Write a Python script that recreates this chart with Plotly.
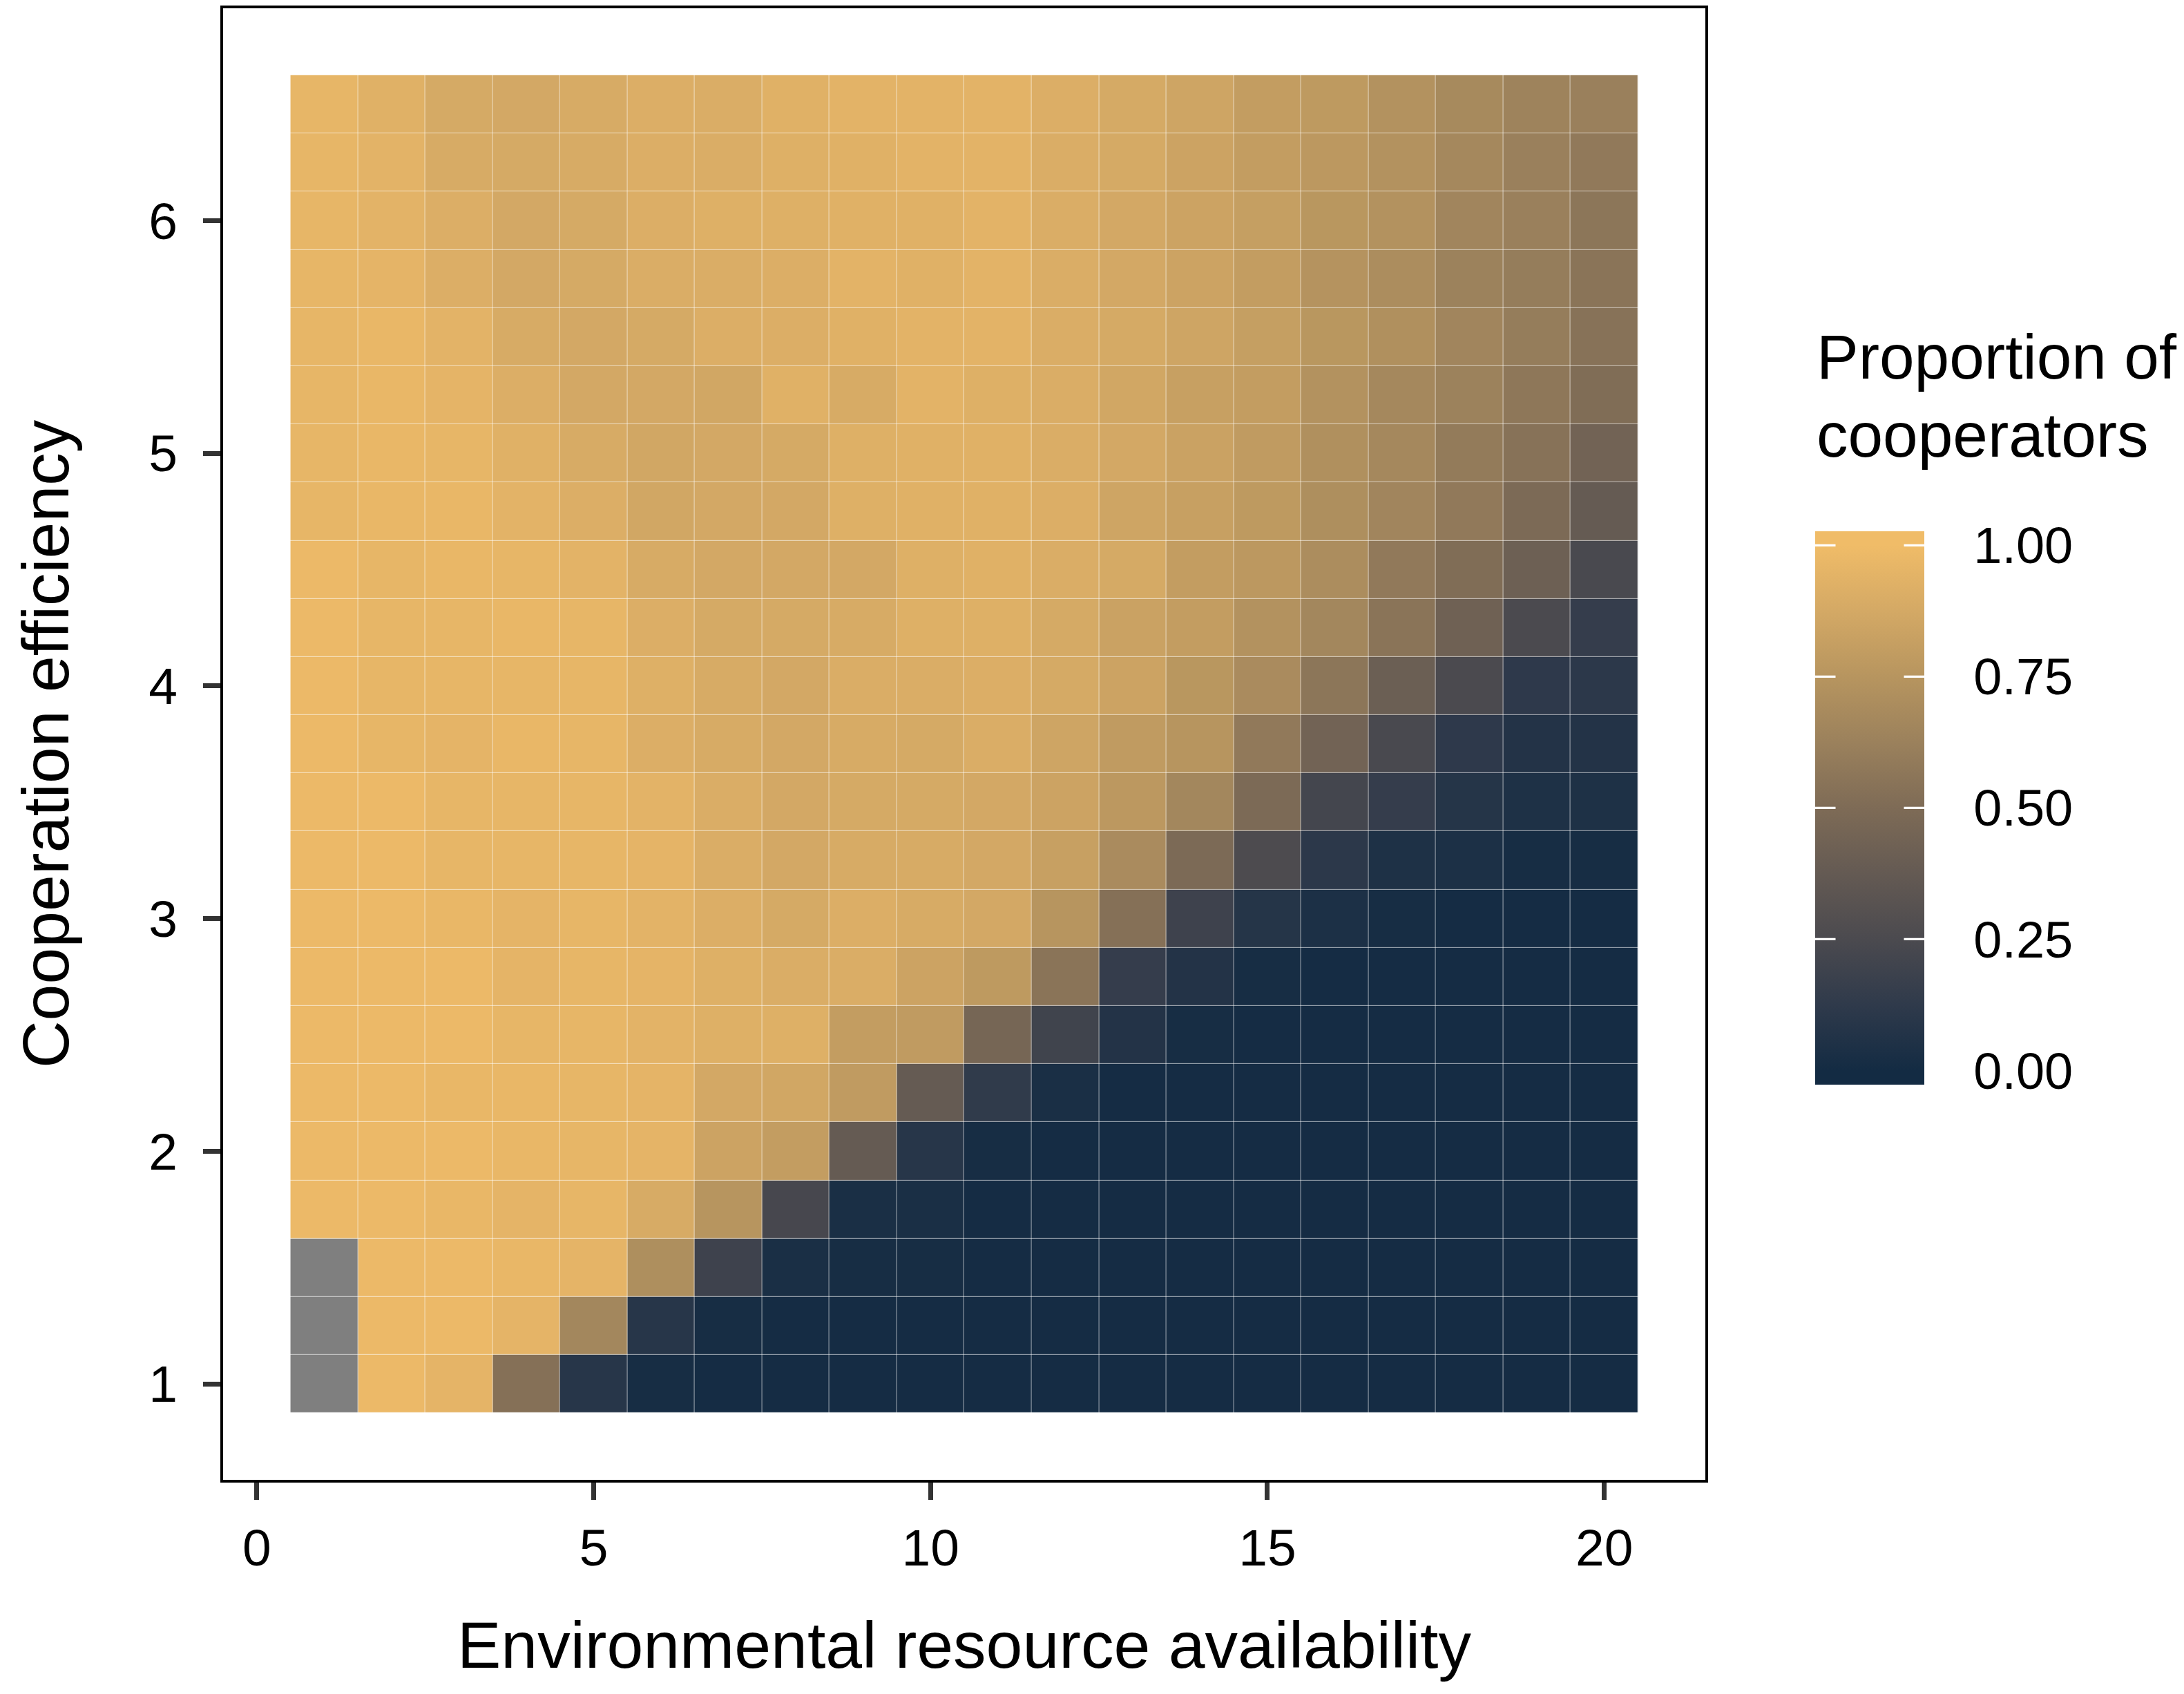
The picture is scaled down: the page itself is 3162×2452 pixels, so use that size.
import plotly.graph_objects as go

# grid: environmental resource availability (x) by cooperation efficiency (y)
resource = [1, 2, 3, 4, 5, 6, 7, 8, 9, 10, 11, 12, 13, 14, 15, 16, 17, 18, 19, 20]
efficiency = [1.0, 1.25, 1.5, 1.75, 2.0, 2.25, 2.5, 2.75, 3.0, 3.25, 3.5, 3.75,
              4.0, 4.25, 4.5, 4.75, 5.0, 5.25, 5.5, 5.75, 6.0, 6.25, 6.5]

# proportion of cooperators, one list per efficiency level (None = no data)
r100 = [None, 0.98, 0.95, 0.53, 0.09, 0.02, 0.01, 0.01, 0.01, 0.01, 0.01, 0.01, 0.01, 0.01, 0.01, 0.01, 0.01, 0.01, 0.01, 0.01]
r125 = [None, 0.98, 0.98, 0.95, 0.66, 0.09, 0.02, 0.01, 0.01, 0.01, 0.01, 0.01, 0.01, 0.01, 0.01, 0.01, 0.01, 0.01, 0.01, 0.01]
r150 = [None, 0.98, 0.98, 0.97, 0.95, 0.71, 0.19, 0.03, 0.02, 0.02, 0.01, 0.01, 0.01, 0.01, 0.01, 0.01, 0.01, 0.01, 0.01, 0.01]
r175 = [0.98, 0.98, 0.97, 0.95, 0.96, 0.89, 0.75, 0.23, 0.03, 0.03, 0.01, 0.01, 0.01, 0.01, 0.01, 0.01, 0.01, 0.01, 0.01, 0.01]
r200 = [0.98, 0.98, 0.98, 0.97, 0.96, 0.95, 0.84, 0.80, 0.38, 0.09, 0.02, 0.01, 0.01, 0.01, 0.01, 0.01, 0.01, 0.01, 0.01, 0.01]
r225 = [0.98, 0.98, 0.97, 0.97, 0.96, 0.95, 0.87, 0.86, 0.79, 0.38, 0.13, 0.03, 0.01, 0.01, 0.01, 0.01, 0.01, 0.01, 0.01, 0.01]
r250 = [0.98, 0.98, 0.98, 0.96, 0.96, 0.94, 0.92, 0.92, 0.80, 0.79, 0.46, 0.20, 0.07, 0.02, 0.01, 0.01, 0.01, 0.01, 0.01, 0.01]
r275 = [0.98, 0.98, 0.98, 0.95, 0.96, 0.95, 0.92, 0.90, 0.90, 0.84, 0.78, 0.55, 0.15, 0.07, 0.02, 0.01, 0.01, 0.01, 0.01, 0.01]
r300 = [0.98, 0.98, 0.97, 0.95, 0.96, 0.94, 0.91, 0.88, 0.91, 0.89, 0.87, 0.75, 0.53, 0.19, 0.08, 0.04, 0.02, 0.01, 0.01, 0.01]
r325 = [0.98, 0.98, 0.96, 0.96, 0.96, 0.95, 0.90, 0.87, 0.89, 0.89, 0.87, 0.82, 0.69, 0.49, 0.26, 0.11, 0.05, 0.04, 0.02, 0.02]
r350 = [0.98, 0.98, 0.96, 0.96, 0.96, 0.94, 0.90, 0.87, 0.88, 0.88, 0.87, 0.84, 0.77, 0.66, 0.49, 0.22, 0.15, 0.08, 0.05, 0.05]
r375 = [0.98, 0.96, 0.95, 0.97, 0.96, 0.91, 0.89, 0.87, 0.89, 0.88, 0.90, 0.85, 0.79, 0.75, 0.58, 0.44, 0.24, 0.12, 0.07, 0.07]
r400 = [0.98, 0.96, 0.96, 0.96, 0.96, 0.92, 0.89, 0.87, 0.90, 0.90, 0.91, 0.88, 0.84, 0.76, 0.69, 0.56, 0.41, 0.25, 0.12, 0.11]
r425 = [0.98, 0.96, 0.96, 0.97, 0.96, 0.91, 0.88, 0.88, 0.89, 0.92, 0.92, 0.88, 0.83, 0.80, 0.73, 0.66, 0.55, 0.43, 0.25, 0.15]
r450 = [0.98, 0.96, 0.97, 0.96, 0.94, 0.89, 0.87, 0.87, 0.87, 0.92, 0.93, 0.90, 0.88, 0.80, 0.77, 0.70, 0.58, 0.51, 0.42, 0.24]
r475 = [0.96, 0.97, 0.97, 0.94, 0.91, 0.86, 0.87, 0.87, 0.92, 0.93, 0.93, 0.91, 0.85, 0.82, 0.78, 0.71, 0.65, 0.58, 0.49, 0.38]
r500 = [0.96, 0.97, 0.96, 0.93, 0.89, 0.86, 0.87, 0.88, 0.92, 0.93, 0.93, 0.90, 0.87, 0.83, 0.79, 0.72, 0.67, 0.59, 0.54, 0.44]
r525 = [0.96, 0.97, 0.95, 0.91, 0.87, 0.87, 0.86, 0.93, 0.89, 0.94, 0.92, 0.90, 0.86, 0.82, 0.80, 0.73, 0.67, 0.63, 0.57, 0.51]
r550 = [0.96, 0.97, 0.94, 0.89, 0.87, 0.88, 0.91, 0.91, 0.93, 0.94, 0.94, 0.90, 0.88, 0.85, 0.81, 0.76, 0.72, 0.65, 0.60, 0.54]
r575 = [0.96, 0.95, 0.91, 0.87, 0.88, 0.90, 0.90, 0.91, 0.94, 0.93, 0.94, 0.90, 0.87, 0.84, 0.80, 0.74, 0.70, 0.63, 0.60, 0.55]
r600 = [0.96, 0.94, 0.91, 0.87, 0.88, 0.91, 0.92, 0.92, 0.93, 0.93, 0.94, 0.90, 0.87, 0.84, 0.81, 0.76, 0.73, 0.65, 0.62, 0.56]
r625 = [0.96, 0.94, 0.89, 0.88, 0.89, 0.91, 0.90, 0.92, 0.93, 0.94, 0.94, 0.90, 0.88, 0.84, 0.80, 0.77, 0.73, 0.67, 0.62, 0.58]
r650 = [0.96, 0.93, 0.88, 0.87, 0.89, 0.91, 0.90, 0.93, 0.94, 0.94, 0.94, 0.91, 0.88, 0.85, 0.80, 0.78, 0.73, 0.68, 0.64, 0.62]

proportion = [r100, r125, r150, r175, r200, r225, r250, r275, r300, r325, r350, r375,
              r400, r425, r450, r475, r500, r525, r550, r575, r600, r625, r650]

x_ticks = [0, 5, 10, 15, 20]
y_ticks = [1, 2, 3, 4, 5, 6]
cbar_ticks = [0, 0.25, 0.5, 0.75, 1]
cbar_labels = ["0.00", "0.25", "0.50", "0.75", "1.00"]
cbar_marks = [0.25, 0.5, 0.75, 1]  # white notches visible on the bar

# gradient sampled from the reference colour bar (value -> colour)
grad_values = [0.0, 0.125, 0.25, 0.375, 0.5, 0.625, 0.75, 0.875, 1.0]
grad_colors = ["#132B43", "#2F3A4B", "#4B4A4F", "#645A53", "#7E6B56",
               "#9B815C", "#B7955F", "#D4A965", "#F0BC68"]
NA_COLOR = "#7F7F7F"

# ggplot-style bar: limits padded by half a bin on both ends
ZMIN, ZMAX = -0.026, 1.026


def build_colorscale():
    span = ZMAX - ZMIN
    scale = [[0.0, grad_colors[0]]]
    for v, c in zip(grad_values, grad_colors):
        scale.append([(v - ZMIN) / span, c])
    scale.append([1.0, grad_colors[-1]])
    return scale


# the page body has an 8px margin, so the figure is shrunk by that much
OFF = 8
W, H = 3162 - OFF, 2452 - OFF
M_L, M_T = 323 - OFF, 0
PW, PH = 2146, 2134
M_R, M_B = W - M_L - PW, H - M_T - PH


def paper_x(px):
    # page pixel -> paper x
    return (px - OFF - M_L) / PW


def paper_y(py):
    # page pixel -> paper y
    return (M_T + PH - (py - OFF)) / PH


CB_THICK = 158
CB_LEN = 801
cb_x = paper_x(2628)
cb_y = paper_y(1167.5)

fig = go.Figure()

fig.add_trace(go.Heatmap(
    x=resource,
    y=efficiency,
    z=proportion,
    zmin=ZMIN,
    zmax=ZMAX,
    colorscale=build_colorscale(),
    xgap=0.6,
    ygap=0.6,
    hovertemplate="x=%{x}<br>y=%{y}<br>p=%{z:.2f}<extra></extra>",
    colorbar=dict(
        x=cb_x, xanchor="left", xpad=0,
        y=cb_y, yanchor="middle", ypad=0,
        thickness=CB_THICK, thicknessmode="pixels",
        len=CB_LEN, lenmode="pixels",
        outlinewidth=0,
        tickvals=cbar_ticks,
        ticktext=["\u00a0\u00a0\u2009" + t for t in cbar_labels],
        ticks="inside", ticklen=30, tickwidth=3, tickcolor="rgba(0,0,0,0)",
        tickfont=dict(size=74, color="black"),
    ),
))

# missing cells drawn in grey
na_mask = [[1 if v is None else None for v in row] for row in proportion]
fig.add_trace(go.Heatmap(
    x=resource,
    y=efficiency,
    z=na_mask,
    zmin=0, zmax=1,
    colorscale=[[0, NA_COLOR], [1, NA_COLOR]],
    showscale=False,
    xgap=0.6,
    ygap=0.6,
    hoverinfo="skip",
))

fig.update_xaxes(
    range=[-0.5, 21.5], tickvals=x_ticks,
    ticks="outside", ticklen=25, tickwidth=7, tickcolor="#333333",
    showline=True, linecolor="black", linewidth=4, mirror=True,
    showgrid=False, zeroline=False,
    tickfont=dict(size=75, color="black"),
    ticklabelstandoff=5,
)
fig.update_yaxes(
    range=[0.5875, 6.9125], tickvals=y_ticks,
    ticks="outside", ticklen=25, tickwidth=7, tickcolor="#333333",
    showline=True, linecolor="black", linewidth=4, mirror=True,
    showgrid=False, zeroline=False,
    tickfont=dict(size=75, color="black"),
    ticklabelstandoff=22,
)

annotations = [
    dict(text="Environmental resource availability", xref="paper", yref="paper",
         x=0.5, y=paper_y(2381), xanchor="center", yanchor="middle",
         showarrow=False, font=dict(size=95, color="black")),
    dict(text="Cooperation efficiency", xref="paper", yref="paper",
         x=paper_x(66), y=0.5, xanchor="center", yanchor="middle",
         textangle=-90, showarrow=False, font=dict(size=95, color="black")),
    dict(text="Proportion of", xref="paper", yref="paper",
         x=cb_x, y=paper_y(513), xanchor="left", yanchor="middle",
         showarrow=False, font=dict(size=91, color="black")),
    dict(text="cooperators", xref="paper", yref="paper",
         x=cb_x, y=paper_y(627), xanchor="left", yanchor="middle",
         showarrow=False, font=dict(size=91, color="black")),
]

# white notches on both edges of the colour bar, as ggplot draws them
cb_right = cb_x + CB_THICK / PW
for v in cbar_marks:
    frac = (v - ZMIN) / (ZMAX - ZMIN)
    ty = cb_y + (frac - 0.5) * CB_LEN / PH
    for edge, dx in ((cb_x, 31), (cb_right, -31)):
        annotations.append(dict(
            text="", xref="paper", yref="paper", x=edge, y=ty,
            ax=dx, ay=0, showarrow=True, arrowhead=0, arrowwidth=3.3,
            arrowcolor="white", standoff=0, startstandoff=0,
        ))

fig.update_layout(
    width=W, height=H,
    margin=dict(l=M_L, r=M_R, t=M_T, b=M_B, pad=0),
    paper_bgcolor="white",
    plot_bgcolor="white",
    font=dict(family="Liberation Sans, Arial, Helvetica, sans-serif", color="black"),
    annotations=annotations,
)

fig.write_html("out.html")
